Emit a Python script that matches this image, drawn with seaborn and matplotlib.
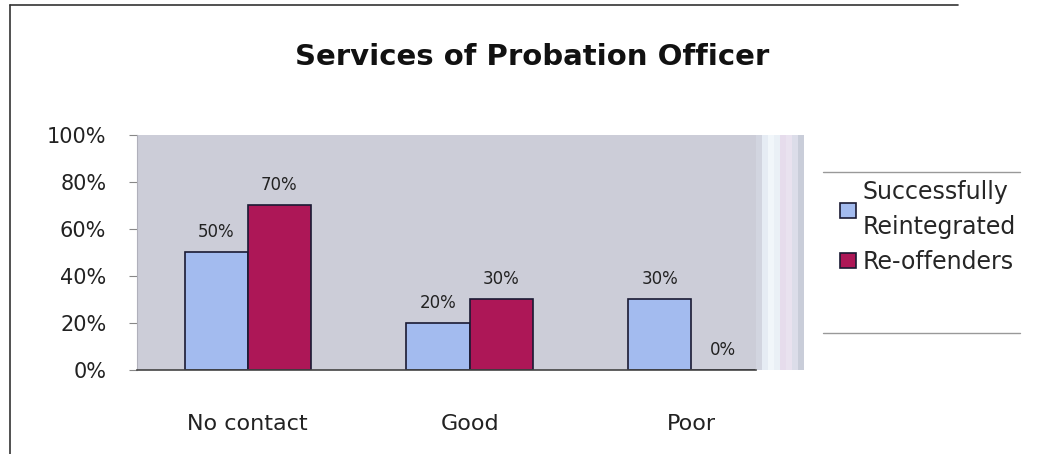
import matplotlib
matplotlib.use("Agg")
import matplotlib.pyplot as plt
from matplotlib.lines import Line2D
from matplotlib.patches import Rectangle
import numpy as np
import pandas as pd
import seaborn as sns

# Chart data
categories = ["No contact", "Good", "Poor"]
series_names = ["Successfully\nReintegrated", "Re-offenders"]
reintegrated = [50, 20, 30]
reoffenders = [70, 30, 0]
y_ticks = [0, 20, 40, 60, 80, 100]
y_tick_labels = ["0%", "20%", "40%", "60%", "80%", "100%"]

df = pd.DataFrame({
    "category": categories * 2,
    "group": [series_names[0]] * 3 + [series_names[1]] * 3,
    "value": reintegrated + reoffenders,
})

sns.set_theme(style="white")
plt.rcParams["font.family"] = ["DejaVu Sans"]

fig = plt.figure(figsize=(10.53, 4.54), dpi=100)
ax = fig.add_axes([0.130, 0.185, 0.634, 0.518])
ax.set_facecolor("#cccdd8")

palette = {series_names[0]: "#a3bbef", series_names[1]: "#ad1757"}
sns.barplot(data=df, x="category", y="value", hue="group", order=categories,
            hue_order=series_names, palette=palette, width=0.57, gap=0,
            edgecolor="#1a1a33", linewidth=1.2, saturation=1, ax=ax)

# pale striped band at the right end of the plot area
strip_colors = ["#d2d5e0", "#e6ecf4", "#f1f6fa", "#eaf0f6", "#e6dcec",
                "#e9e2ef", "#dcdde9", "#c9cdd9"]
n = len(strip_colors)
x0, w = 0.928, 0.072
for i, c in enumerate(strip_colors):
    ax.add_patch(Rectangle((x0 + i * w / n, 0), w / n, 1,
                           transform=ax.transAxes, facecolor=c, edgecolor="none", zorder=0.5))

ax.set_xlim(-0.5, 2.51)
ax.set_ylim(0, 100)
ax.set_yticks(y_ticks)
ax.set_yticklabels(y_tick_labels, fontsize=15, color="#222222")
ax.tick_params(axis="y", left=True, length=6, width=0.8, color="#888888", pad=16)
ax.tick_params(axis="x", bottom=False, pad=26, labelsize=16, labelcolor="#222222")
ax.set_xlabel("")
ax.set_ylabel("")
for side in ["top", "right"]:
    ax.spines[side].set_visible(False)
ax.spines["left"].set_color("#b0b0bb")
ax.spines["left"].set_linewidth(0.8)
ax.spines["bottom"].set_color("#444444")
ax.spines["bottom"].set_linewidth(1.2)
ax.spines["bottom"].set_bounds(-0.5, 2.29)

# value labels above the bars
for container, vals in zip(ax.containers, [reintegrated, reoffenders]):
    ax.bar_label(container, labels=[f"{v}%" for v in vals], padding=8,
                 fontsize=12, color="#222222")

# legend with rules above and below
handles, labels = ax.get_legend_handles_labels()
leg = ax.legend(handles, labels, loc="upper left", bbox_to_anchor=(0.789, 0.625),
                bbox_transform=fig.transFigure, frameon=False, fontsize=17,
                handlelength=0.65, handleheight=0.65, handletextpad=0.3,
                labelspacing=0.45, borderaxespad=0)
for t in leg.get_texts():
    t.set_linespacing(1.6)
fig.add_artist(Line2D([0.782, 0.969], [0.621, 0.621], color="#999999", lw=1))
fig.add_artist(Line2D([0.782, 0.969], [0.267, 0.267], color="#999999", lw=1))

fig.suptitle("Services of Probation Officer", x=0.505, y=0.905,
             fontsize=21, fontweight="bold", color="#111111")

# chart frame (top and left edges)
fig.add_artist(Line2D([0.0095, 0.91], [0.989, 0.989], color="#333333", lw=1.2))
fig.add_artist(Line2D([0.0095, 0.0095], [0.0, 0.989], color="#333333", lw=1.2))

fig.savefig("out.png", dpi=100, facecolor="white")
